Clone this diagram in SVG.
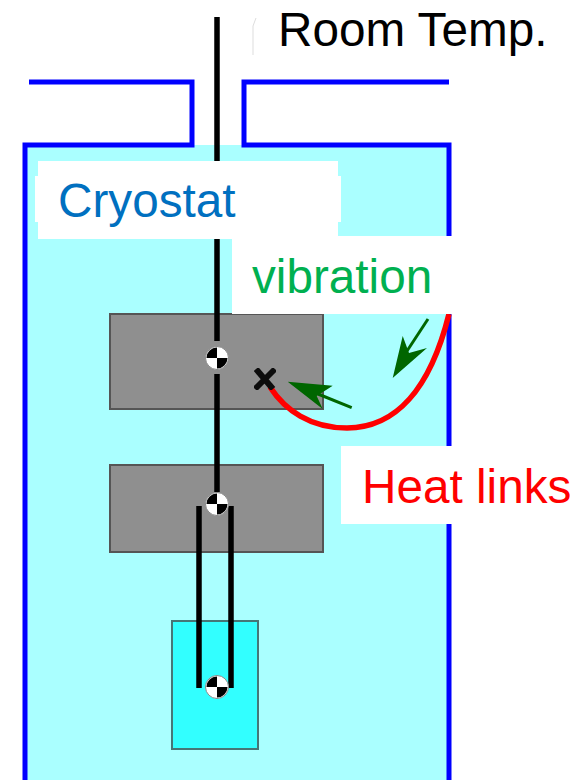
<svg xmlns="http://www.w3.org/2000/svg" width="583" height="780" viewBox="0 0 583 780">
<defs>
<style>
.wall{fill:none;stroke:#0000ff;stroke-width:5}
.rod{fill:none;stroke:#000;stroke-width:5.5}
.mass{fill:#8f8f8f;stroke:#555;stroke-width:2}
.lbl{font-family:"Liberation Sans",Arial,sans-serif;font-size:47.7px}
.vib{fill:none;stroke:#006600;stroke-width:3}
.head{fill:#006600}
.box{fill:#fff}
</style>
<filter id="soft" x="-5%" y="-5%" width="110%" height="110%"><feGaussianBlur stdDeviation="0.5"/></filter>
<g id="pivot">
<circle r="11.5" fill="#fff" stroke="#888" stroke-width="1"/>
<path d="M0,0 H-10.5 A10.5,10.5 0 0 1 0,-10.5Z M0,0 H10.5 A10.5,10.5 0 0 1 0,10.5Z" fill="#000"/>
</g>
</defs>
<rect width="583" height="780" fill="#fff"/>
<g id="cryostat" filter="url(#soft)">
<path d="M25,145 H449 V785 H25Z" fill="#aaffff"/>
<path class="wall" d="M29,82 H192 V145 H25 V785"/>
<path class="wall" d="M449,82 H244 V145 H449 V785"/>
</g>
<g id="mass-1" filter="url(#soft)"><rect class="mass" x="110" y="314" width="213" height="95"/></g>
<g id="mass-2" filter="url(#soft)"><rect class="mass" x="110" y="465" width="213" height="87"/></g>
<g id="mass-3" filter="url(#soft)"><rect x="172" y="621" width="86" height="128" fill="#33ffff" stroke="#447777" stroke-width="2"/></g>
<g id="connectors" filter="url(#soft)">
<path class="rod" d="M217,17 V341 M217,374 V492"/>
<path class="rod" d="M199,506 V688 M231,506 V688"/>
<path d="M270,387 C285,410 310,428 347,428 C395,428 430,390 449,314" fill="none" stroke="#ff0000" stroke-width="5.5"/>
<path class="vib" d="M428,319 L407,351"/>
<path class="head" d="M392.7,378 L402.7,336 L409,353 L427,348Z"/>
<path class="vib" d="M351.7,407.7 L318,394"/>
<path class="head" d="M287.7,381.7 L332.7,385.7 L316.7,396 L322.7,409Z"/>
</g>
<g id="pivots" filter="url(#soft)">
<use href="#pivot" x="217" y="358"/>
<use href="#pivot" x="217" y="504"/>
<use href="#pivot" x="217" y="687"/>
</g>
<g id="x-mark" filter="url(#soft)"><path d="M256,369 L273,389 M275,369 L255,389" stroke="#111" stroke-width="6" fill="none"/></g>
<g id="label-room"><path d="M256,18 L253,26 V55" fill="none" stroke="#ddd" stroke-width="1"/><text class="lbl" x="278" y="46" fill="#000">Room Temp.</text></g>
<g id="label-cryostat"><rect class="box" x="38" y="161" width="300" height="78"/><rect class="box" x="35" y="176" width="306" height="46"/><text class="lbl" x="58" y="217" fill="#0070c0">Cryostat</text></g>
<g id="label-vibration"><rect class="box" x="232" y="236" width="220" height="78"/><text class="lbl" x="252" y="293" fill="#00b050">vibration</text></g>
<g id="label-heat"><rect class="box" x="341" y="446" width="242" height="78"/><text class="lbl" x="362" y="503" fill="#ff0000">Heat links</text></g>
</svg>
